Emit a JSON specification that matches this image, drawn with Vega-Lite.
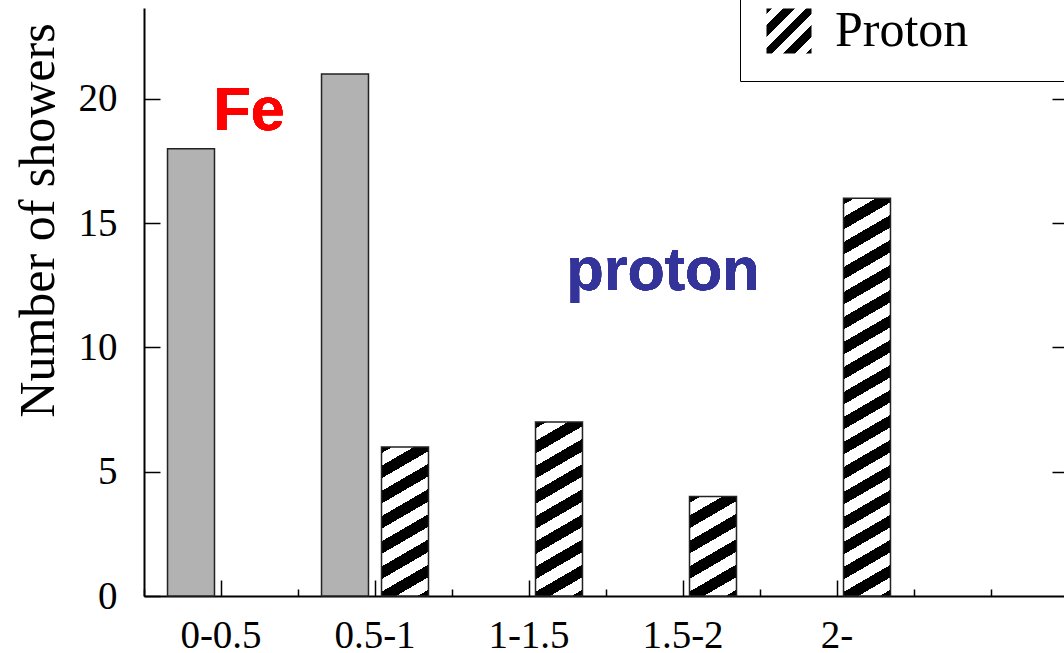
{
  "$schema": "https://vega.github.io/schema/vega-lite/v6.json",
  "width": 920,
  "height": 588,
  "autosize": "none",
  "padding": {"left": 144, "top": 8, "right": 0, "bottom": 57},
  "background": "white",
  "config": {"view": {"stroke": null}},
  "data": {"values": [
    {"bin": "0-0.5", "type": "Fe", "count": 18},
    {"bin": "0.5-1", "type": "Fe", "count": 21},
    {"bin": "0.5-1", "type": "Proton", "count": 6},
    {"bin": "1-1.5", "type": "Proton", "count": 7},
    {"bin": "1.5-2", "type": "Proton", "count": 4},
    {"bin": "2-", "type": "Proton", "count": 16}
  ]},
  "resolve": {"axis": {"x": "independent", "y": "independent"}},
  "layer": [
    {
      "mark": {"type": "bar", "stroke": "#222", "strokeWidth": 1.5},
      "encoding": {
        "x": {"field": "bin", "type": "nominal",
          "scale": {"domain": ["0-0.5", "0.5-1", "1-1.5", "1.5-2", "2-", " "], "range": [0, 924], "paddingInner": 0, "paddingOuter": 0},
          "axis": {"orient": "bottom", "title": null, "labelAngle": 0, "labelFont": "Liberation Serif", "labelFontSize": 39, "labelColor": "#000", "labelPadding": 36,
            "tickSize": {"condition": {"test": "datum.value === ' '", "value": -7}, "value": -16},
            "tickColor": "#000", "tickWidth": 1.5, "domainColor": "#000", "domainWidth": 2, "grid": false}},
        "xOffset": {"field": "type", "type": "nominal", "scale": {"domain": ["Fe", "Proton"], "paddingInner": 0.217, "paddingOuter": 0.392}},
        "y": {"field": "count", "type": "quantitative",
          "scale": {"domain": [0, 23.66], "nice": false, "zero": true},
          "axis": {"orient": "left", "title": "Number of showers", "values": [0, 5, 10, 15, 20], "grid": false,
            "tickSize": -16, "tickColor": "#000", "tickWidth": 1.5, "domainColor": "#000", "domainWidth": 2,
            "labelFont": "Liberation Serif", "labelFontSize": 39, "labelColor": "#000", "labelPadding": 43,
            "titleFont": "Liberation Serif", "titleFontSize": 50, "titleFontWeight": "normal", "titleColor": "#000",
            "titleX": -91, "titleY": 212, "titleAngle": 270, "titleBaseline": "alphabetic", "titleAlign": "center"}},
        "opacity": {"field": "type", "type": "nominal",
          "scale": {"domain": ["Fe", "Proton"], "range": [1, 1]},
          "legend": {"orient": "none", "legendX": 596, "legendY": -26, "values": ["Proton"], "title": null,
            "symbolType": "square", "symbolSize": 2025, "symbolStrokeColor": "#000", "symbolStrokeWidth": 1.5,
            "labelFont": "Liberation Serif", "labelFontSize": 50, "labelColor": "#000", "labelOffset": 21, "labelLimit": 500,
            "labelExpr": "datum.label + '\u00a0\u00a0\u00a0\u00a0\u00a0\u00a0\u00a0\u00a0\u200b'",
            "padding": 24, "strokeColor": "#000"}},
        "fill": {
          "condition": [
            {"test": "datum.type === 'Fe'", "value": "#b2b2b2"},
            {"test": "datum.type === 'Proton' && datum.bin === '0.5-1'", "value": {"gradient": "linear", "x1": 0, "y1": 0, "x2": 0.20926, "y2": 1.14457, "stops": [
              {"offset": 0, "color": "#000"},
              {"offset": 0.0357, "color": "#000"}, {"offset": 0.0357, "color": "#fff"},
              {"offset": 0.1071, "color": "#fff"}, {"offset": 0.1071, "color": "#000"},
              {"offset": 0.1786, "color": "#000"}, {"offset": 0.1786, "color": "#fff"},
              {"offset": 0.25, "color": "#fff"}, {"offset": 0.25, "color": "#000"},
              {"offset": 0.3214, "color": "#000"}, {"offset": 0.3214, "color": "#fff"},
              {"offset": 0.3929, "color": "#fff"}, {"offset": 0.3929, "color": "#000"},
              {"offset": 0.4643, "color": "#000"}, {"offset": 0.4643, "color": "#fff"},
              {"offset": 0.5357, "color": "#fff"}, {"offset": 0.5357, "color": "#000"},
              {"offset": 0.6071, "color": "#000"}, {"offset": 0.6071, "color": "#fff"},
              {"offset": 0.6786, "color": "#fff"}, {"offset": 0.6786, "color": "#000"},
              {"offset": 0.75, "color": "#000"}, {"offset": 0.75, "color": "#fff"},
              {"offset": 0.8214, "color": "#fff"}, {"offset": 0.8214, "color": "#000"},
              {"offset": 0.8929, "color": "#000"}, {"offset": 0.8929, "color": "#fff"},
              {"offset": 0.9643, "color": "#fff"}, {"offset": 0.9643, "color": "#000"},
              {"offset": 1, "color": "#000"}]}},
            {"test": "datum.type === 'Proton' && datum.bin === '1-1.5'", "value": {"gradient": "linear", "x1": 0, "y1": 0, "x2": 0.17687, "y2": 1.12896, "stops": [
              {"offset": 0, "color": "#000"},
              {"offset": 0.03125, "color": "#000"}, {"offset": 0.03125, "color": "#fff"},
              {"offset": 0.09375, "color": "#fff"}, {"offset": 0.09375, "color": "#000"},
              {"offset": 0.15625, "color": "#000"}, {"offset": 0.15625, "color": "#fff"},
              {"offset": 0.21875, "color": "#fff"}, {"offset": 0.21875, "color": "#000"},
              {"offset": 0.28125, "color": "#000"}, {"offset": 0.28125, "color": "#fff"},
              {"offset": 0.34375, "color": "#fff"}, {"offset": 0.34375, "color": "#000"},
              {"offset": 0.40625, "color": "#000"}, {"offset": 0.40625, "color": "#fff"},
              {"offset": 0.46875, "color": "#fff"}, {"offset": 0.46875, "color": "#000"},
              {"offset": 0.53125, "color": "#000"}, {"offset": 0.53125, "color": "#fff"},
              {"offset": 0.59375, "color": "#fff"}, {"offset": 0.59375, "color": "#000"},
              {"offset": 0.65625, "color": "#000"}, {"offset": 0.65625, "color": "#fff"},
              {"offset": 0.71875, "color": "#fff"}, {"offset": 0.71875, "color": "#000"},
              {"offset": 0.78125, "color": "#000"}, {"offset": 0.78125, "color": "#fff"},
              {"offset": 0.84375, "color": "#fff"}, {"offset": 0.84375, "color": "#000"},
              {"offset": 0.90625, "color": "#000"}, {"offset": 0.90625, "color": "#fff"},
              {"offset": 0.96875, "color": "#fff"}, {"offset": 0.96875, "color": "#000"},
              {"offset": 1, "color": "#000"}]}},
            {"test": "datum.type === 'Proton' && datum.bin === '1.5-2'", "value": {"gradient": "linear", "x1": 0, "y1": 0, "x2": 0.3251, "y2": 1.1856, "stops": [
              {"offset": 0, "color": "#000"},
              {"offset": 0.05, "color": "#000"}, {"offset": 0.05, "color": "#fff"},
              {"offset": 0.15, "color": "#fff"}, {"offset": 0.15, "color": "#000"},
              {"offset": 0.25, "color": "#000"}, {"offset": 0.25, "color": "#fff"},
              {"offset": 0.35, "color": "#fff"}, {"offset": 0.35, "color": "#000"},
              {"offset": 0.45, "color": "#000"}, {"offset": 0.45, "color": "#fff"},
              {"offset": 0.55, "color": "#fff"}, {"offset": 0.55, "color": "#000"},
              {"offset": 0.65, "color": "#000"}, {"offset": 0.65, "color": "#fff"},
              {"offset": 0.75, "color": "#fff"}, {"offset": 0.75, "color": "#000"},
              {"offset": 0.85, "color": "#000"}, {"offset": 0.85, "color": "#fff"},
              {"offset": 0.95, "color": "#fff"}, {"offset": 0.95, "color": "#000"},
              {"offset": 1, "color": "#000"}]}},
            {"test": "datum.type === 'Proton' && datum.bin === '2-'", "value": {"gradient": "linear", "x1": 0, "y1": 0, "x2": 0.07292, "y2": 1.06358, "stops": [
              {"offset": 0, "color": "#000"},
              {"offset": 0.0147, "color": "#000"}, {"offset": 0.0147, "color": "#fff"},
              {"offset": 0.0441, "color": "#fff"}, {"offset": 0.0441, "color": "#000"},
              {"offset": 0.0735, "color": "#000"}, {"offset": 0.0735, "color": "#fff"},
              {"offset": 0.1029, "color": "#fff"}, {"offset": 0.1029, "color": "#000"},
              {"offset": 0.1324, "color": "#000"}, {"offset": 0.1324, "color": "#fff"},
              {"offset": 0.1618, "color": "#fff"}, {"offset": 0.1618, "color": "#000"},
              {"offset": 0.1912, "color": "#000"}, {"offset": 0.1912, "color": "#fff"},
              {"offset": 0.2206, "color": "#fff"}, {"offset": 0.2206, "color": "#000"},
              {"offset": 0.25, "color": "#000"}, {"offset": 0.25, "color": "#fff"},
              {"offset": 0.2794, "color": "#fff"}, {"offset": 0.2794, "color": "#000"},
              {"offset": 0.3088, "color": "#000"}, {"offset": 0.3088, "color": "#fff"},
              {"offset": 0.3382, "color": "#fff"}, {"offset": 0.3382, "color": "#000"},
              {"offset": 0.3676, "color": "#000"}, {"offset": 0.3676, "color": "#fff"},
              {"offset": 0.3971, "color": "#fff"}, {"offset": 0.3971, "color": "#000"},
              {"offset": 0.4265, "color": "#000"}, {"offset": 0.4265, "color": "#fff"},
              {"offset": 0.4559, "color": "#fff"}, {"offset": 0.4559, "color": "#000"},
              {"offset": 0.4853, "color": "#000"}, {"offset": 0.4853, "color": "#fff"},
              {"offset": 0.5147, "color": "#fff"}, {"offset": 0.5147, "color": "#000"},
              {"offset": 0.5441, "color": "#000"}, {"offset": 0.5441, "color": "#fff"},
              {"offset": 0.5735, "color": "#fff"}, {"offset": 0.5735, "color": "#000"},
              {"offset": 0.6029, "color": "#000"}, {"offset": 0.6029, "color": "#fff"},
              {"offset": 0.6324, "color": "#fff"}, {"offset": 0.6324, "color": "#000"},
              {"offset": 0.6618, "color": "#000"}, {"offset": 0.6618, "color": "#fff"},
              {"offset": 0.6912, "color": "#fff"}, {"offset": 0.6912, "color": "#000"},
              {"offset": 0.7206, "color": "#000"}, {"offset": 0.7206, "color": "#fff"},
              {"offset": 0.75, "color": "#fff"}, {"offset": 0.75, "color": "#000"},
              {"offset": 0.7794, "color": "#000"}, {"offset": 0.7794, "color": "#fff"},
              {"offset": 0.8088, "color": "#fff"}, {"offset": 0.8088, "color": "#000"},
              {"offset": 0.8382, "color": "#000"}, {"offset": 0.8382, "color": "#fff"},
              {"offset": 0.8676, "color": "#fff"}, {"offset": 0.8676, "color": "#000"},
              {"offset": 0.8971, "color": "#000"}, {"offset": 0.8971, "color": "#fff"},
              {"offset": 0.9265, "color": "#fff"}, {"offset": 0.9265, "color": "#000"},
              {"offset": 0.9559, "color": "#000"}, {"offset": 0.9559, "color": "#fff"},
              {"offset": 0.9853, "color": "#fff"}, {"offset": 0.9853, "color": "#000"},
              {"offset": 1, "color": "#000"}]}}
          ],
          "value": {"gradient": "linear", "x1": 0, "y1": 0, "x2": 1, "y2": 1, "stops": [
              {"offset": 0, "color": "#000"},
              {"offset": 0.0625, "color": "#000"}, {"offset": 0.0625, "color": "#fff"},
              {"offset": 0.1875, "color": "#fff"}, {"offset": 0.1875, "color": "#000"},
              {"offset": 0.3125, "color": "#000"}, {"offset": 0.3125, "color": "#fff"},
              {"offset": 0.4375, "color": "#fff"}, {"offset": 0.4375, "color": "#000"},
              {"offset": 0.5625, "color": "#000"}, {"offset": 0.5625, "color": "#fff"},
              {"offset": 0.6875, "color": "#fff"}, {"offset": 0.6875, "color": "#000"},
              {"offset": 0.8125, "color": "#000"}, {"offset": 0.8125, "color": "#fff"},
              {"offset": 0.9375, "color": "#fff"}, {"offset": 0.9375, "color": "#000"},
              {"offset": 1, "color": "#000"}]}}
      }
    },
    {
      "mark": {"type": "text", "text": "Fe", "font": "Liberation Sans", "fontWeight": "bold", "fontSize": 61, "color": "#ff0000", "align": "center", "baseline": "alphabetic", "dx": 28},
      "encoding": {
        "x": {"datum": "0-0.5", "type": "nominal",
          "axis": {"orient": "bottom", "title": null, "labels": false, "domain": false, "tickBand": "extent", "tickSize": -7, "tickColor": "#000", "tickWidth": 1.5, "grid": false}},
        "y": {"datum": 18.75, "type": "quantitative",
          "axis": {"orient": "right", "offset": 4, "title": null, "labels": false, "domain": false, "values": [5, 10, 15, 20], "tickSize": -16, "tickColor": "#000", "tickWidth": 1.5, "grid": false}}
      }
    },
    {
      "mark": {"type": "text", "text": "proton", "font": "Liberation Sans", "fontWeight": "bold", "fontSize": 61, "color": "#333399", "align": "center", "baseline": "alphabetic", "dx": -20},
      "encoding": {
        "x": {"datum": "1.5-2", "type": "nominal", "axis": null},
        "y": {"datum": 12.31, "type": "quantitative", "axis": null}
      }
    }
  ]
}
